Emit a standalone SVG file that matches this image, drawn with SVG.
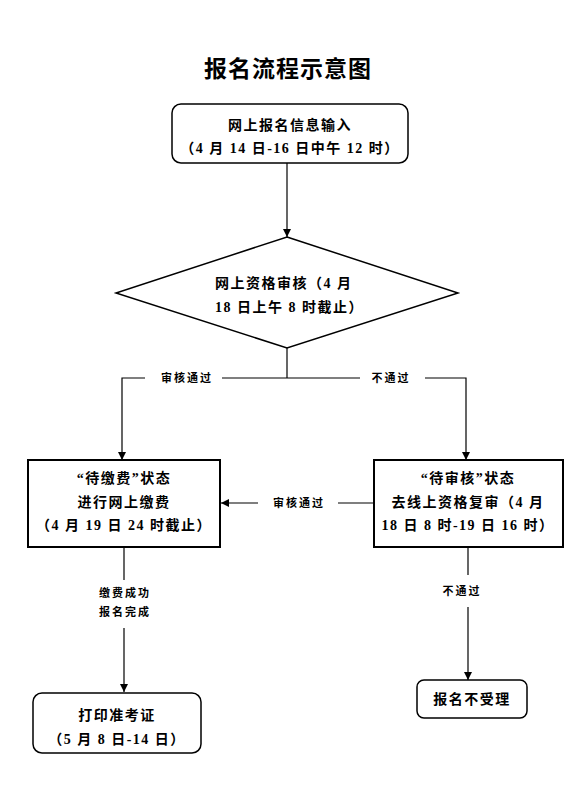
<svg xmlns="http://www.w3.org/2000/svg" width="582" height="785" viewBox="0 0 582 785">
<defs>
<marker id="ah" viewBox="0 0 10 10" refX="10" refY="5" markerWidth="8" markerHeight="8" markerUnits="userSpaceOnUse" orient="auto">
<path d="M0,0 L10,5 L0,10 z" fill="#000"/>
</marker>
<style>
.t{font-family:"Liberation Serif","Noto Sans CJK SC",serif;fill:#000}
.box{fill:#fff;stroke:#000;stroke-width:1.5}
.sq{fill:#fff;stroke:#000;stroke-width:2}
.ln{fill:none;stroke:#000;stroke-width:1.2}
.lb{font-size:11px;letter-spacing:2px;font-weight:bold}
.bt{font-size:14px;letter-spacing:1.5px;font-weight:bold}
</style>
</defs>
<rect width="582" height="785" fill="#fff"/>
<text class="t" x="288" y="77" font-size="23" font-weight="bold" letter-spacing="1" text-anchor="middle">报名流程示意图</text>

<g id="connectors">
<path class="ln" d="M287,163 V237" marker-end="url(#ah)"/>
<path class="ln" d="M287,348 V378"/>
<path class="ln" d="M145,378 H122 V460" marker-end="url(#ah)"/>
<path class="ln" d="M222,378 H360"/>
<path class="ln" d="M425,378 H466 V460" marker-end="url(#ah)"/>
<path class="ln" d="M374,503 H338"/>
<path class="ln" d="M258,503 H221" marker-end="url(#ah)"/>
<path class="ln" d="M124,547 V580" stroke-width="2"/>
<path class="ln" d="M124,628 V692" marker-end="url(#ah)" stroke-width="2"/>
<path class="ln" d="M468,547 V575" stroke-width="2"/>
<path class="ln" d="M468,607 V680" marker-end="url(#ah)" stroke-width="2"/>
<text class="t lb" x="187" y="382" text-anchor="middle">审核通过</text>
<text class="t lb" x="391" y="382" text-anchor="middle">不通过</text>
<text class="t lb" x="299" y="507" text-anchor="middle">审核通过</text>
<text class="t lb" x="125" y="597" text-anchor="middle">缴费成功</text>
<text class="t lb" x="125" y="616" text-anchor="middle">报名完成</text>
<text class="t lb" x="462" y="595" text-anchor="middle">不通过</text>
</g>

<g id="n1">
<rect class="box" x="172" y="104" width="236" height="59" rx="9"/>
<text class="t bt" x="290" y="130" text-anchor="middle">网上报名信息输入</text>
<text class="t bt" x="290" y="153" text-anchor="middle">（4 月 14 日-16 日中午 12 时）</text>
</g>

<g id="n2">
<polygon class="box" points="287,237 458,293 287,348 116,293"/>
<text class="t bt" x="215" y="288">网上资格审核（4 月</text>
<text class="t bt" x="215" y="312">18 日上午 8 时截止）</text>
</g>

<g id="n3">
<rect class="sq" x="28" y="460" width="192" height="87"/>
<text class="t bt" x="124" y="483" text-anchor="middle">“待缴费”状态</text>
<text class="t bt" x="124" y="507" text-anchor="middle">进行网上缴费</text>
<text class="t bt" x="124" y="530" text-anchor="middle">（4 月 19 日 24 时截止）</text>
</g>

<g id="n4">
<rect class="sq" x="374" y="460" width="189" height="87"/>
<text class="t bt" x="468" y="483" text-anchor="middle">“待审核”状态</text>
<text class="t bt" x="468" y="507" text-anchor="middle">去线上资格复审（4 月</text>
<text class="t bt" x="468" y="530" text-anchor="middle">18 日 8 时-19 日 16 时）</text>
</g>

<g id="n5">
<rect class="box" x="33" y="693" width="168" height="60" rx="9"/>
<text class="t bt" x="117" y="720" text-anchor="middle">打印准考证</text>
<text class="t bt" x="117" y="744" text-anchor="middle">（5 月 8 日-14 日）</text>
</g>

<g id="n6">
<rect class="box" x="417" y="680" width="110" height="38" rx="7"/>
<text class="t bt" x="472" y="704" text-anchor="middle">报名不受理</text>
</g>
</svg>
